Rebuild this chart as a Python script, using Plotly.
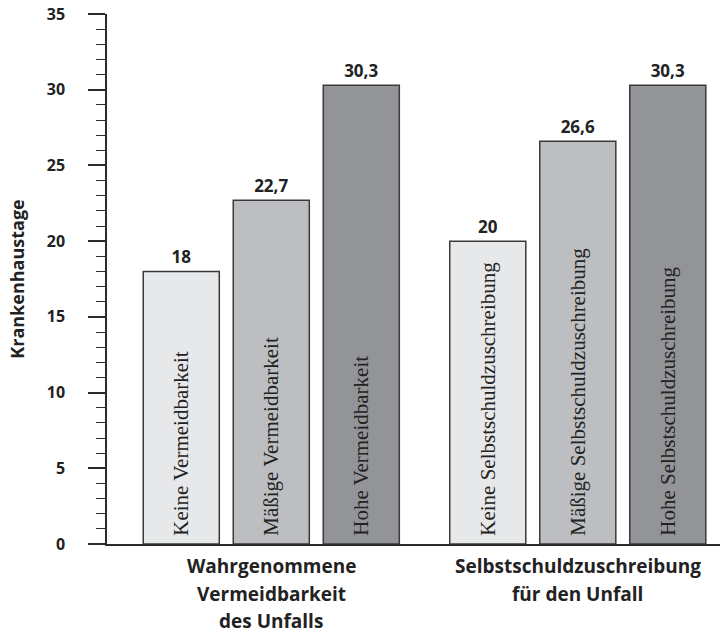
import plotly.graph_objects as go

groups = ["Wahrgenommene Vermeidbarkeit des Unfalls", "Selbstschuldzuschreibung für den Unfall"]
group_lines = [["Wahrgenommene", "Vermeidbarkeit", "des Unfalls"],
               ["Selbstschuldzuschreibung", "für den Unfall"]]
levels = ["Keine", "Mäßige", "Hohe"]
suffixes = ["Vermeidbarkeit", "Selbstschuldzuschreibung"]
values = {
    "Keine": [18, 20],
    "Mäßige": [22.7, 26.6],
    "Hohe": [30.3, 30.3],
}
colors = {"Keine": "#e7e8ea", "Mäßige": "#bdbec1", "Hohe": "#939497"}
yticks = [0, 5, 10, 15, 20, 25, 30, 35]

def fmt(v):
    s = f"{v:.1f}".rstrip("0").rstrip(".")
    return s.replace(".", ",")

SANS = "Open Sans"
SERIF = "Liberation Serif"
INK = "#2b2b2b"

fig = go.Figure()
for lvl in levels:
    fig.add_trace(go.Bar(
        x=groups, y=values[lvl], name=lvl,
        marker=dict(color=colors[lvl], line=dict(color="#3a3a3a", width=1.5)),
        text=["\u00a0" + f"{lvl} {s}" for s in suffixes],
        textposition="inside", insidetextanchor="start", textangle=-90,
        textfont=dict(family=SERIF, size=21, color="#222222"),
        constraintext="none", hoverinfo="skip", showlegend=False,
        xaxis="x", yaxis="y",
    ))
for lvl in levels:
    fig.add_trace(go.Bar(
        x=groups, y=values[lvl], name=lvl + " Wert",
        marker=dict(color="rgba(0,0,0,0)", line=dict(width=0)),
        text=[fmt(v) for v in values[lvl]],
        textposition="outside", textangle=0,
        textfont=dict(family=SANS, size=17, color="#222222", weight="bold"),
        cliponaxis=False, hoverinfo="skip", showlegend=False,
        xaxis="x", yaxis="y2",
    ))

for g, lines in zip(groups, group_lines):
    for i, line in enumerate(lines):
        fig.add_annotation(
            x=g, y=0, xref="x", yref="paper", text=line, showarrow=False,
            yanchor="middle", xanchor="center", yshift=-(22 + 27.5 * i),
            font=dict(family=SANS, size=19, color="#222222", weight="bold"),
        )

yax = dict(
    range=[0, 35], tickvals=yticks, ticks="outside", ticklen=17, tickwidth=1.5,
    tickcolor=INK, showline=True, linecolor=INK, linewidth=1.5, showgrid=False,
    zeroline=False, tickfont=dict(family=SANS, size=16, color="#222222", weight="bold"),
    ticklabelstandoff=20, automargin=False,
    minor=dict(dtick=1, ticks="outside", ticklen=9, tickwidth=1.2, tickcolor=INK, showgrid=False),
)
fig.update_layout(
    width=720, height=634, margin=dict(l=107, r=0, t=14, b=90, autoexpand=False),
    paper_bgcolor="white", plot_bgcolor="white",
    barmode="group", bargap=0.119, bargroupgap=0.155,
    xaxis=dict(type="category", range=[-0.536, 1.464], showticklabels=False, ticks="",
               showline=True, linecolor=INK, linewidth=1.5, showgrid=False, zeroline=False,
               automargin=False),
    yaxis=dict(**yax, title=dict(text="Krankenhaustage", standoff=17,
                                 font=dict(family=SANS, size=18, color="#222222", weight="bold"))),
    yaxis2=dict(range=[0, 35], overlaying="y", visible=False, showgrid=False, zeroline=False),
)
fig.write_html("out.html", config={"displayModeBar": False},
               post_script="document.body.style.margin='0';document.body.style.padding='0';")
